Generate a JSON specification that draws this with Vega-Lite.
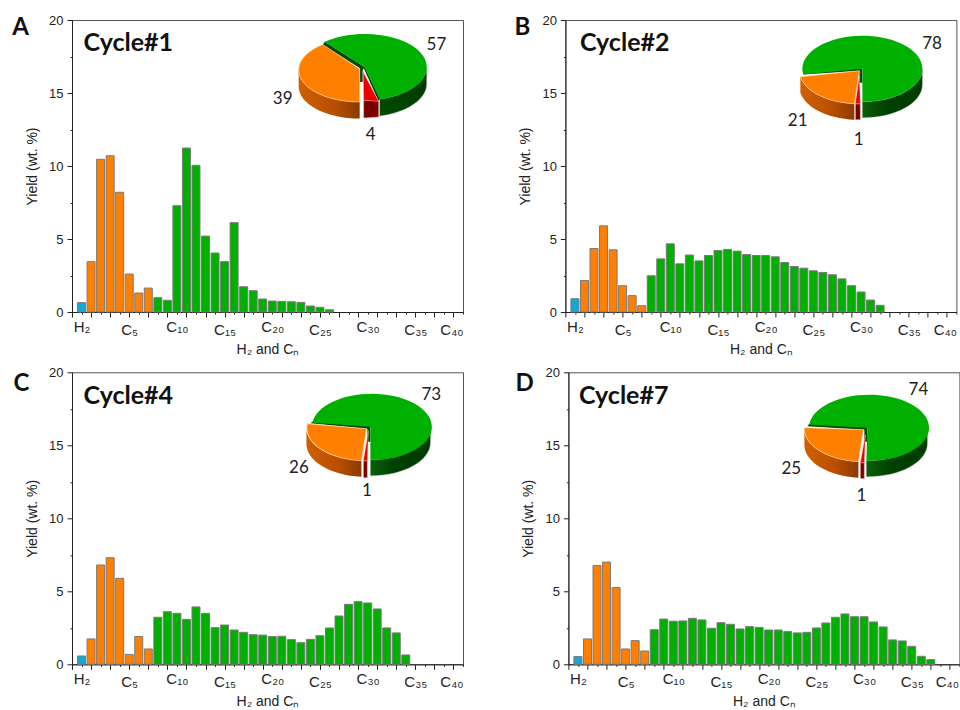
{"$schema":"https://vega.github.io/schema/vega-lite/v6.json","background":"white","padding":{"left":11,"top":13,"right":0,"bottom":0},"spacing":8.3,"config":{"view":{"stroke":"#555","strokeWidth":1},"text":{"font":"Lato"},"axis":{"grid":false,"domainColor":"#222","tickColor":"#222","labelFont":"Liberation Sans","titleFont":"Liberation Sans","labelFontSize":13,"titleFontSize":14,"labelColor":"#222","titleColor":"#222","titleFontWeight":"normal"}},
"vconcat":[
{"hconcat":[
{"width":391,"height":292,"resolve":{"axis":{"x":"independent","y":"independent"}},"layer":[
{"data":{"values":[{"pos":1,"yield":0.64,"group":"H2"},{"pos":2,"yield":3.45,"group":"C1-C7"},{"pos":3,"yield":10.46,"group":"C1-C7"},{"pos":4,"yield":10.7,"group":"C1-C7"},{"pos":5,"yield":8.2,"group":"C1-C7"},{"pos":6,"yield":2.6,"group":"C1-C7"},{"pos":7,"yield":1.3,"group":"C1-C7"},{"pos":8,"yield":1.64,"group":"C1-C7"},{"pos":9,"yield":0.98,"group":"C8+"},{"pos":10,"yield":0.8,"group":"C8+"},{"pos":11,"yield":7.28,"group":"C8+"},{"pos":12,"yield":11.23,"group":"C8+"},{"pos":13,"yield":10.05,"group":"C8+"},{"pos":14,"yield":5.2,"group":"C8+"},{"pos":15,"yield":4.04,"group":"C8+"},{"pos":16,"yield":3.45,"group":"C8+"},{"pos":17,"yield":6.12,"group":"C8+"},{"pos":18,"yield":1.73,"group":"C8+"},{"pos":19,"yield":1.46,"group":"C8+"},{"pos":20,"yield":0.89,"group":"C8+"},{"pos":21,"yield":0.75,"group":"C8+"},{"pos":22,"yield":0.73,"group":"C8+"},{"pos":23,"yield":0.7,"group":"C8+"},{"pos":24,"yield":0.66,"group":"C8+"},{"pos":25,"yield":0.41,"group":"C8+"},{"pos":26,"yield":0.32,"group":"C8+"},{"pos":27,"yield":0.15,"group":"C8+"}]},
"mark":{"type":"bar","size":8,"stroke":"#7a7a7a","strokeWidth":1},
"encoding":{"x":{"field":"pos","type":"quantitative","scale":{"domain":[0,41],"nice":false,"padding":0},"axis":{"title":"H₂ and Cₙ","values":[0,1,2,3,4,5,6,7,8,9,10,11,12,13,14,15,16,17,18,19,20,21,22,23,24,25,26,27,28,29,30,31,32,33,34,35,36,37,38,39,40,41],"labelExpr":"datum.value==1?'H₂':datum.value==6?'C₅':datum.value==11?'C₁₀':datum.value==16?'C₁₅':datum.value==21?'C₂₀':datum.value==26?'C₂₅':datum.value==31?'C₃₀':datum.value==36?'C₃₅':datum.value==40?'C₄₀':''","labelFontSize":15,"labelOverlap":false,"labelBound":false,"labelFlush":false,"labelPadding":5,"labelOffset":{"condition":{"test":"datum.value==40","value":-2},"value":0},"tickSize":{"condition":{"test":"datum.value%2==0","value":5},"value":2},"titlePadding":5}},"y":{"field":"yield","type":"quantitative","scale":{"domain":[0,20],"nice":false},"axis":{"title":"Yield (wt. %)","values":[0,2.5,5,7.5,10,12.5,15,17.5,20],"labelExpr":"datum.value%5==0?datum.value:''","labelOverlap":false,"labelPadding":4,"tickSize":{"condition":{"test":"datum.value%5==0","value":5},"value":2},"titlePadding":9}},"color":{"field":"group","type":"nominal","scale":{"domain":["H2","C1-C7","C8+"],"range":["#12a8d8","#ff7f00","#00b000"]},"legend":null}}},
{"data":{"values":[{"panel":"A","cycle":"Cycle#1"}]},"layer":[
{"mark":{"type":"text","fontSize":24,"fontWeight":"bold","color":"#111"},"encoding":{"text":{"field":"panel"},"x":{"datum":-5.38,"scale":{"domain":[0,41],"nice":false,"padding":0},"axis":null},"y":{"datum":19.42,"scale":{"domain":[0,20],"nice":false},"axis":null}}},
{"mark":{"type":"text","fontSize":25,"fontWeight":"bold","color":"#111"},"encoding":{"text":{"field":"cycle"},"x":{"datum":5.91,"scale":{"domain":[0,41],"nice":false,"padding":0},"axis":null},"y":{"datum":18.4,"scale":{"domain":[0,20],"nice":false},"axis":null}}}]},
{"data":{"values":[{"f":"C8+","share":57},{"f":"C1-C7","share":39},{"f":"H2","share":4}]},"layer":[
{"transform":[{"filter":"datum.f=='C8+'"}],"mark":{"type":"text","fontSize":17,"color":"#222"},"encoding":{"text":{"field":"share"},"x":{"datum":38.21,"scale":{"domain":[0,41],"nice":false,"padding":0},"axis":null},"y":{"datum":18.31,"scale":{"domain":[0,20],"nice":false},"axis":null}}},
{"transform":[{"filter":"datum.f=='C1-C7'"}],"mark":{"type":"text","fontSize":17,"color":"#222"},"encoding":{"text":{"field":"share"},"x":{"datum":22.09,"scale":{"domain":[0,41],"nice":false,"padding":0},"axis":null},"y":{"datum":14.59,"scale":{"domain":[0,20],"nice":false},"axis":null}}},
{"transform":[{"filter":"datum.f=='H2'"}],"mark":{"type":"text","fontSize":17,"color":"#222"},"encoding":{"text":{"field":"share"},"x":{"datum":31.32,"scale":{"domain":[0,41],"nice":false,"padding":0},"axis":null},"y":{"datum":12.12,"scale":{"domain":[0,20],"nice":false},"axis":null}}},
{"encoding":{"x":{"datum":30.69,"scale":{"domain":[0,41],"nice":false,"padding":0},"axis":null},"y":{"datum":16.78,"scale":{"domain":[0,20],"nice":false},"axis":null}},"layer":[
{"transform":[{"filter":"datum.f=='C8+'"}],"mark":{"type":"point","filled":true,"opacity":1,"size":40000,"shape":"M0.62,0 A0.62,0.33 0 0 1 0.15,0.32 L0.15,0.49 A0.62,0.33 0 0 0 0.62,0.165 Z","fill":{"gradient":"linear","x1":0,"x2":1,"y1":0,"y2":0,"stops":[{"offset":0,"color":"#004a00"},{"offset":1,"color":"#003c00"}]},"stroke":"#9db89d","strokeWidth":0.4}},
{"transform":[{"filter":"datum.f=='C1-C7'"}],"mark":{"type":"point","filled":true,"opacity":1,"size":40000,"shape":"M-0.66,0.03 L-0.66,0.19 A0.61,0.32 0 0 0 -0.05,0.515 L-0.05,0.35 A0.61,0.32 0 0 1 -0.66,0.03 Z","fill":{"gradient":"linear","x1":0,"x2":1,"y1":0,"y2":0,"stops":[{"offset":0,"color":"#d06000"},{"offset":0.6,"color":"#b84e00"},{"offset":1,"color":"#8a3a00"}]}}},
{"transform":[{"filter":"datum.f=='H2'"}],"mark":{"type":"point","filled":true,"opacity":1,"size":40000,"shape":"M-0.01,0.33 L-0.01,0.51 L0.14,0.5 L0.14,0.34 Z","fill":"#7a0000","stroke":"#e8b0b0","strokeWidth":0.5}},
{"transform":[{"filter":"datum.f=='C8+'"}],"mark":{"type":"point","filled":true,"opacity":1,"size":40000,"shape":"M-0.4,-0.252 L-0.42,-0.22 L-0.05,0.01 L-0.05,0.15 L-0.02,0.15 L-0.02,0.03 L0,0 Z M-0.01,0.01 L0.135,0.335 L0.155,0.32 L0,0 Z","fill":"#004a00"}},
{"transform":[{"filter":"datum.f=='C8+'"}],"mark":{"type":"point","filled":true,"opacity":1,"size":40000,"shape":"M0,0 L-0.4,-0.252 A0.62,0.33 0 1 1 0.15,0.32 Z","fill":"#00b000"}},
{"transform":[{"filter":"datum.f=='C1-C7'"}],"mark":{"type":"point","filled":true,"opacity":1,"size":40000,"shape":"M-0.05,0.02 L-0.05,0.35 A0.61,0.32 0 0 1 -0.418,-0.225 Z","fill":"#ff7f00","stroke":"#ffd9b0","strokeWidth":0.6}},
{"transform":[{"filter":"datum.f=='H2'"}],"mark":{"type":"point","filled":true,"opacity":1,"size":40000,"shape":"M-0.015,0.05 L-0.01,0.33 L0.14,0.345 Z","fill":"#ee0000","stroke":"#ffc0c0","strokeWidth":0.4}}]}]}]},
{"width":391,"height":292,"resolve":{"axis":{"x":"independent","y":"independent"}},"layer":[
{"data":{"values":[{"pos":1,"yield":0.91,"group":"H2"},{"pos":2,"yield":2.16,"group":"C1-C7"},{"pos":3,"yield":4.35,"group":"C1-C7"},{"pos":4,"yield":5.9,"group":"C1-C7"},{"pos":5,"yield":4.26,"group":"C1-C7"},{"pos":6,"yield":1.8,"group":"C1-C7"},{"pos":7,"yield":1.12,"group":"C1-C7"},{"pos":8,"yield":0.43,"group":"C1-C7"},{"pos":9,"yield":2.48,"group":"C8+"},{"pos":10,"yield":3.64,"group":"C8+"},{"pos":11,"yield":4.67,"group":"C8+"},{"pos":12,"yield":3.3,"group":"C8+"},{"pos":13,"yield":3.9,"group":"C8+"},{"pos":14,"yield":3.5,"group":"C8+"},{"pos":15,"yield":3.87,"group":"C8+"},{"pos":16,"yield":4.21,"group":"C8+"},{"pos":17,"yield":4.28,"group":"C8+"},{"pos":18,"yield":4.17,"group":"C8+"},{"pos":19,"yield":3.94,"group":"C8+"},{"pos":20,"yield":3.87,"group":"C8+"},{"pos":21,"yield":3.87,"group":"C8+"},{"pos":22,"yield":3.78,"group":"C8+"},{"pos":23,"yield":3.39,"group":"C8+"},{"pos":24,"yield":3.12,"group":"C8+"},{"pos":25,"yield":3.0,"group":"C8+"},{"pos":26,"yield":2.82,"group":"C8+"},{"pos":27,"yield":2.71,"group":"C8+"},{"pos":28,"yield":2.55,"group":"C8+"},{"pos":29,"yield":2.27,"group":"C8+"},{"pos":30,"yield":1.8,"group":"C8+"},{"pos":31,"yield":1.37,"group":"C8+"},{"pos":32,"yield":0.82,"group":"C8+"},{"pos":33,"yield":0.46,"group":"C8+"}]},
"mark":{"type":"bar","size":8,"stroke":"#7a7a7a","strokeWidth":1},
"encoding":{"x":{"field":"pos","type":"quantitative","scale":{"domain":[0,41],"nice":false,"padding":0},"axis":{"title":"H₂ and Cₙ","values":[0,1,2,3,4,5,6,7,8,9,10,11,12,13,14,15,16,17,18,19,20,21,22,23,24,25,26,27,28,29,30,31,32,33,34,35,36,37,38,39,40,41],"labelExpr":"datum.value==1?'H₂':datum.value==6?'C₅':datum.value==11?'C₁₀':datum.value==16?'C₁₅':datum.value==21?'C₂₀':datum.value==26?'C₂₅':datum.value==31?'C₃₀':datum.value==36?'C₃₅':datum.value==40?'C₄₀':''","labelFontSize":15,"labelOverlap":false,"labelBound":false,"labelFlush":false,"labelPadding":5,"labelOffset":{"condition":{"test":"datum.value==40","value":-2},"value":0},"tickSize":{"condition":{"test":"datum.value%2==0","value":5},"value":2},"titlePadding":5}},"y":{"field":"yield","type":"quantitative","scale":{"domain":[0,20],"nice":false},"axis":{"title":"Yield (wt. %)","values":[0,2.5,5,7.5,10,12.5,15,17.5,20],"labelExpr":"datum.value%5==0?datum.value:''","labelOverlap":false,"labelPadding":4,"tickSize":{"condition":{"test":"datum.value%5==0","value":5},"value":2},"titlePadding":9}},"color":{"field":"group","type":"nominal","scale":{"domain":["H2","C1-C7","C8+"],"range":["#12a8d8","#ff7f00","#00b000"]},"legend":null}}},
{"data":{"values":[{"panel":"B","cycle":"Cycle#2"}]},"layer":[
{"mark":{"type":"text","fontSize":24,"fontWeight":"bold","color":"#111"},"encoding":{"text":{"field":"panel"},"x":{"datum":-4.51,"scale":{"domain":[0,41],"nice":false,"padding":0},"axis":null},"y":{"datum":19.47,"scale":{"domain":[0,20],"nice":false},"axis":null}}},
{"mark":{"type":"text","fontSize":25,"fontWeight":"bold","color":"#111"},"encoding":{"text":{"field":"cycle"},"x":{"datum":6.22,"scale":{"domain":[0,41],"nice":false,"padding":0},"axis":null},"y":{"datum":18.41,"scale":{"domain":[0,20],"nice":false},"axis":null}}}]},
{"data":{"values":[{"f":"C8+","share":78},{"f":"C1-C7","share":21},{"f":"H2","share":1}]},"layer":[
{"transform":[{"filter":"datum.f=='C8+'"}],"mark":{"type":"text","fontSize":17,"color":"#222"},"encoding":{"text":{"field":"share"},"x":{"datum":38.44,"scale":{"domain":[0,41],"nice":false,"padding":0},"axis":null},"y":{"datum":18.34,"scale":{"domain":[0,20],"nice":false},"axis":null}}},
{"transform":[{"filter":"datum.f=='C1-C7'"}],"mark":{"type":"text","fontSize":17,"color":"#222"},"encoding":{"text":{"field":"share"},"x":{"datum":24.36,"scale":{"domain":[0,41],"nice":false,"padding":0},"axis":null},"y":{"datum":13.05,"scale":{"domain":[0,20],"nice":false},"axis":null}}},
{"transform":[{"filter":"datum.f=='H2'"}],"mark":{"type":"text","fontSize":17,"color":"#222"},"encoding":{"text":{"field":"share"},"x":{"datum":30.75,"scale":{"domain":[0,41],"nice":false,"padding":0},"axis":null},"y":{"datum":11.75,"scale":{"domain":[0,20],"nice":false},"axis":null}}},
{"encoding":{"x":{"datum":31.14,"scale":{"domain":[0,41],"nice":false,"padding":0},"axis":null},"y":{"datum":16.66,"scale":{"domain":[0,20],"nice":false},"axis":null}},"layer":[
{"transform":[{"filter":"datum.f=='C8+'"}],"mark":{"type":"point","filled":true,"opacity":1,"size":40000,"shape":"M0.6,0 A0.6,0.33 0 0 1 0,0.33 L0,0.49 A0.6,0.33 0 0 0 0.6,0.16 Z","fill":{"gradient":"linear","x1":0,"x2":1,"y1":0,"y2":0,"stops":[{"offset":0,"color":"#0a5f0a"},{"offset":0.4,"color":"#004000"},{"offset":1,"color":"#003c00"}]},"stroke":"#9db89d","strokeWidth":0.4}},
{"transform":[{"filter":"datum.f=='C1-C7'"}],"mark":{"type":"point","filled":true,"opacity":1,"size":40000,"shape":"M-0.62,0.08 L-0.62,0.24 A0.6,0.33 0 0 0 -0.08,0.51 L-0.08,0.35 A0.6,0.33 0 0 1 -0.62,0.08 Z","fill":{"gradient":"linear","x1":0,"x2":1,"y1":0,"y2":0,"stops":[{"offset":0,"color":"#d06000"},{"offset":0.6,"color":"#b84e00"},{"offset":1,"color":"#8a3a00"}]}}},
{"transform":[{"filter":"datum.f=='H2'"}],"mark":{"type":"point","filled":true,"opacity":1,"size":40000,"shape":"M-0.07,0.35 L-0.07,0.51 L-0.02,0.51 L-0.02,0.35 Z","fill":"#7a0000","stroke":"#f0c8c8","strokeWidth":0.5}},
{"transform":[{"filter":"datum.f=='C8+'"}],"mark":{"type":"point","filled":true,"opacity":1,"size":40000,"shape":"M-0.59,0.058 L-0.59,0.04 L0,-0.005 L0,0.14 L-0.03,0.14 L-0.03,0.02 Z","fill":"#004a00"}},
{"transform":[{"filter":"datum.f=='C8+'"}],"mark":{"type":"point","filled":true,"opacity":1,"size":40000,"shape":"M0,0 L-0.59,0.058 A0.6,0.33 0 1 1 0,0.33 Z","fill":"#00b000"}},
{"transform":[{"filter":"datum.f=='C1-C7'"}],"mark":{"type":"point","filled":true,"opacity":1,"size":40000,"shape":"M-0.03,0.02 L-0.08,0.35 A0.6,0.33 0 0 1 -0.62,0.08 Z","fill":"#ff7f00","stroke":"#ffd9b0","strokeWidth":0.6}},
{"transform":[{"filter":"datum.f=='H2'"}],"mark":{"type":"point","filled":true,"opacity":1,"size":40000,"shape":"M-0.03,0.07 L-0.07,0.35 L-0.02,0.35 Z","fill":"#ee0000","stroke":"#ffd0d0","strokeWidth":0.4}}]}]}]}
],"spacing":102.4,"bounds":"flush"},
{"hconcat":[
{"width":391,"height":292,"resolve":{"axis":{"x":"independent","y":"independent"}},"layer":[
{"data":{"values":[{"pos":1,"yield":0.57,"group":"H2"},{"pos":2,"yield":1.74,"group":"C1-C7"},{"pos":3,"yield":6.8,"group":"C1-C7"},{"pos":4,"yield":7.3,"group":"C1-C7"},{"pos":5,"yield":5.89,"group":"C1-C7"},{"pos":6,"yield":0.68,"group":"C1-C7"},{"pos":7,"yield":1.9,"group":"C1-C7"},{"pos":8,"yield":1.05,"group":"C1-C7"},{"pos":9,"yield":3.22,"group":"C8+"},{"pos":10,"yield":3.6,"group":"C8+"},{"pos":11,"yield":3.49,"group":"C8+"},{"pos":12,"yield":3.08,"group":"C8+"},{"pos":13,"yield":3.93,"group":"C8+"},{"pos":14,"yield":3.49,"group":"C8+"},{"pos":15,"yield":2.51,"group":"C8+"},{"pos":16,"yield":2.69,"group":"C8+"},{"pos":17,"yield":2.35,"group":"C8+"},{"pos":18,"yield":2.19,"group":"C8+"},{"pos":19,"yield":2.03,"group":"C8+"},{"pos":20,"yield":2.0,"group":"C8+"},{"pos":21,"yield":1.9,"group":"C8+"},{"pos":22,"yield":1.92,"group":"C8+"},{"pos":23,"yield":1.69,"group":"C8+"},{"pos":24,"yield":1.48,"group":"C8+"},{"pos":25,"yield":1.71,"group":"C8+"},{"pos":26,"yield":1.96,"group":"C8+"},{"pos":27,"yield":2.49,"group":"C8+"},{"pos":28,"yield":3.31,"group":"C8+"},{"pos":29,"yield":4.11,"group":"C8+"},{"pos":30,"yield":4.29,"group":"C8+"},{"pos":31,"yield":4.2,"group":"C8+"},{"pos":32,"yield":3.79,"group":"C8+"},{"pos":33,"yield":2.49,"group":"C8+"},{"pos":34,"yield":2.15,"group":"C8+"},{"pos":35,"yield":0.64,"group":"C8+"}]},
"mark":{"type":"bar","size":8,"stroke":"#7a7a7a","strokeWidth":1},
"encoding":{"x":{"field":"pos","type":"quantitative","scale":{"domain":[0,41],"nice":false,"padding":0},"axis":{"title":"H₂ and Cₙ","values":[0,1,2,3,4,5,6,7,8,9,10,11,12,13,14,15,16,17,18,19,20,21,22,23,24,25,26,27,28,29,30,31,32,33,34,35,36,37,38,39,40,41],"labelExpr":"datum.value==1?'H₂':datum.value==6?'C₅':datum.value==11?'C₁₀':datum.value==16?'C₁₅':datum.value==21?'C₂₀':datum.value==26?'C₂₅':datum.value==31?'C₃₀':datum.value==36?'C₃₅':datum.value==40?'C₄₀':''","labelFontSize":15,"labelOverlap":false,"labelBound":false,"labelFlush":false,"labelPadding":5,"labelOffset":{"condition":{"test":"datum.value==40","value":-2},"value":0},"tickSize":{"condition":{"test":"datum.value%2==0","value":5},"value":2},"titlePadding":5}},"y":{"field":"yield","type":"quantitative","scale":{"domain":[0,20],"nice":false},"axis":{"title":"Yield (wt. %)","values":[0,2.5,5,7.5,10,12.5,15,17.5,20],"labelExpr":"datum.value%5==0?datum.value:''","labelOverlap":false,"labelPadding":4,"tickSize":{"condition":{"test":"datum.value%5==0","value":5},"value":2},"titlePadding":9}},"color":{"field":"group","type":"nominal","scale":{"domain":["H2","C1-C7","C8+"],"range":["#12a8d8","#ff7f00","#00b000"]},"legend":null}}},
{"data":{"values":[{"panel":"C","cycle":"Cycle#4"}]},"layer":[
{"mark":{"type":"text","fontSize":24,"fontWeight":"bold","color":"#111"},"encoding":{"text":{"field":"panel"},"x":{"datum":-5.31,"scale":{"domain":[0,41],"nice":false,"padding":0},"axis":null},"y":{"datum":19.22,"scale":{"domain":[0,20],"nice":false},"axis":null}}},
{"mark":{"type":"text","fontSize":25,"fontWeight":"bold","color":"#111"},"encoding":{"text":{"field":"cycle"},"x":{"datum":5.91,"scale":{"domain":[0,41],"nice":false,"padding":0},"axis":null},"y":{"datum":18.4,"scale":{"domain":[0,20],"nice":false},"axis":null}}}]},
{"data":{"values":[{"f":"C8+","share":73},{"f":"C1-C7","share":26},{"f":"H2","share":1}]},"layer":[
{"transform":[{"filter":"datum.f=='C8+'"}],"mark":{"type":"text","fontSize":17,"color":"#222"},"encoding":{"text":{"field":"share"},"x":{"datum":37.68,"scale":{"domain":[0,41],"nice":false,"padding":0},"axis":null},"y":{"datum":18.45,"scale":{"domain":[0,20],"nice":false},"axis":null}}},
{"transform":[{"filter":"datum.f=='C1-C7'"}],"mark":{"type":"text","fontSize":17,"color":"#222"},"encoding":{"text":{"field":"share"},"x":{"datum":23.8,"scale":{"domain":[0,41],"nice":false,"padding":0},"axis":null},"y":{"datum":13.42,"scale":{"domain":[0,20],"nice":false},"axis":null}}},
{"transform":[{"filter":"datum.f=='H2'"}],"mark":{"type":"text","fontSize":17,"color":"#222"},"encoding":{"text":{"field":"share"},"x":{"datum":30.93,"scale":{"domain":[0,41],"nice":false,"padding":0},"axis":null},"y":{"datum":11.87,"scale":{"domain":[0,20],"nice":false},"axis":null}}},
{"encoding":{"x":{"datum":31.29,"scale":{"domain":[0,41],"nice":false,"padding":0},"axis":null},"y":{"datum":16.27,"scale":{"domain":[0,20],"nice":false},"axis":null}},"layer":[
{"transform":[{"filter":"datum.f=='C8+'"}],"mark":{"type":"point","filled":true,"opacity":1,"size":40000,"shape":"M0.6,0 A0.6,0.33 0 0 1 0,0.33 L0,0.49 A0.6,0.33 0 0 0 0.6,0.16 Z","fill":{"gradient":"linear","x1":0,"x2":1,"y1":0,"y2":0,"stops":[{"offset":0,"color":"#0a5f0a"},{"offset":0.4,"color":"#004000"},{"offset":1,"color":"#003c00"}]},"stroke":"#9db89d","strokeWidth":0.4}},
{"transform":[{"filter":"datum.f=='C1-C7'"}],"mark":{"type":"point","filled":true,"opacity":1,"size":40000,"shape":"M-0.64,0.03 L-0.64,0.18 A0.6,0.33 0 0 0 -0.09,0.5 L-0.09,0.34 A0.6,0.33 0 0 1 -0.64,0.03 Z","fill":{"gradient":"linear","x1":0,"x2":1,"y1":0,"y2":0,"stops":[{"offset":0,"color":"#d06000"},{"offset":0.6,"color":"#b84e00"},{"offset":1,"color":"#8a3a00"}]}}},
{"transform":[{"filter":"datum.f=='H2'"}],"mark":{"type":"point","filled":true,"opacity":1,"size":40000,"shape":"M-0.07,0.34 L-0.07,0.51 L-0.03,0.51 L-0.03,0.34 Z","fill":"#7a0000","stroke":"#f0c8c8","strokeWidth":0.5}},
{"transform":[{"filter":"datum.f=='C8+'"}],"mark":{"type":"point","filled":true,"opacity":1,"size":40000,"shape":"M-0.6,-0.035 L-0.58,-0.05 L0,-0.01 L0,0.15 L-0.03,0.15 L-0.03,0.02 Z","fill":"#004a00"}},
{"transform":[{"filter":"datum.f=='C8+'"}],"mark":{"type":"point","filled":true,"opacity":1,"size":40000,"shape":"M0,0 L-0.58,-0.04 A0.6,0.33 0 1 1 0,0.33 Z","fill":"#00b000"}},
{"transform":[{"filter":"datum.f=='C1-C7'"}],"mark":{"type":"point","filled":true,"opacity":1,"size":40000,"shape":"M-0.04,0.02 L-0.09,0.34 A0.6,0.33 0 0 1 -0.63,-0.03 Z","fill":"#ff7f00","stroke":"#ffd9b0","strokeWidth":0.6}},
{"transform":[{"filter":"datum.f=='H2'"}],"mark":{"type":"point","filled":true,"opacity":1,"size":40000,"shape":"M-0.02,0.04 L-0.07,0.34 L-0.03,0.34 Z","fill":"#ee0000","stroke":"#ffd0d0","strokeWidth":0.4}}]}]}]},
{"width":391,"height":292,"resolve":{"axis":{"x":"independent","y":"independent"}},"layer":[
{"data":{"values":[{"pos":1,"yield":0.53,"group":"H2"},{"pos":2,"yield":1.74,"group":"C1-C7"},{"pos":3,"yield":6.76,"group":"C1-C7"},{"pos":4,"yield":7.0,"group":"C1-C7"},{"pos":5,"yield":5.25,"group":"C1-C7"},{"pos":6,"yield":1.05,"group":"C1-C7"},{"pos":7,"yield":1.62,"group":"C1-C7"},{"pos":8,"yield":0.91,"group":"C1-C7"},{"pos":9,"yield":2.37,"group":"C8+"},{"pos":10,"yield":3.1,"group":"C8+"},{"pos":11,"yield":2.95,"group":"C8+"},{"pos":12,"yield":2.97,"group":"C8+"},{"pos":13,"yield":3.15,"group":"C8+"},{"pos":14,"yield":3.04,"group":"C8+"},{"pos":15,"yield":2.47,"group":"C8+"},{"pos":16,"yield":2.85,"group":"C8+"},{"pos":17,"yield":2.74,"group":"C8+"},{"pos":18,"yield":2.42,"group":"C8+"},{"pos":19,"yield":2.58,"group":"C8+"},{"pos":20,"yield":2.53,"group":"C8+"},{"pos":21,"yield":2.35,"group":"C8+"},{"pos":22,"yield":2.35,"group":"C8+"},{"pos":23,"yield":2.24,"group":"C8+"},{"pos":24,"yield":2.15,"group":"C8+"},{"pos":25,"yield":2.19,"group":"C8+"},{"pos":26,"yield":2.49,"group":"C8+"},{"pos":27,"yield":2.83,"group":"C8+"},{"pos":28,"yield":3.22,"group":"C8+"},{"pos":29,"yield":3.45,"group":"C8+"},{"pos":30,"yield":3.26,"group":"C8+"},{"pos":31,"yield":3.26,"group":"C8+"},{"pos":32,"yield":2.9,"group":"C8+"},{"pos":33,"yield":2.56,"group":"C8+"},{"pos":34,"yield":1.67,"group":"C8+"},{"pos":35,"yield":1.6,"group":"C8+"},{"pos":36,"yield":1.23,"group":"C8+"},{"pos":37,"yield":0.55,"group":"C8+"},{"pos":38,"yield":0.32,"group":"C8+"}]},
"mark":{"type":"bar","size":8,"stroke":"#7a7a7a","strokeWidth":1},
"encoding":{"x":{"field":"pos","type":"quantitative","scale":{"domain":[0,41],"nice":false,"padding":0},"axis":{"title":"H₂ and Cₙ","values":[0,1,2,3,4,5,6,7,8,9,10,11,12,13,14,15,16,17,18,19,20,21,22,23,24,25,26,27,28,29,30,31,32,33,34,35,36,37,38,39,40,41],"labelExpr":"datum.value==1?'H₂':datum.value==6?'C₅':datum.value==11?'C₁₀':datum.value==16?'C₁₅':datum.value==21?'C₂₀':datum.value==26?'C₂₅':datum.value==31?'C₃₀':datum.value==36?'C₃₅':datum.value==40?'C₄₀':''","labelFontSize":15,"labelOverlap":false,"labelBound":false,"labelFlush":false,"labelPadding":5,"labelOffset":{"condition":{"test":"datum.value==40","value":-3},"value":0},"tickSize":{"condition":{"test":"datum.value%2==0","value":5},"value":2},"titlePadding":5}},"y":{"field":"yield","type":"quantitative","scale":{"domain":[0,20],"nice":false},"axis":{"title":"Yield (wt. %)","values":[0,2.5,5,7.5,10,12.5,15,17.5,20],"labelExpr":"datum.value%5==0?datum.value:''","labelOverlap":false,"labelPadding":4,"tickSize":{"condition":{"test":"datum.value%5==0","value":5},"value":2},"titlePadding":9}},"color":{"field":"group","type":"nominal","scale":{"domain":["H2","C1-C7","C8+"],"range":["#12a8d8","#ff7f00","#00b000"]},"legend":null}}},
{"data":{"values":[{"panel":"D","cycle":"Cycle#7"}]},"layer":[
{"mark":{"type":"text","fontSize":24,"fontWeight":"bold","color":"#111"},"encoding":{"text":{"field":"panel"},"x":{"datum":-4.58,"scale":{"domain":[0,41],"nice":false,"padding":0},"axis":null},"y":{"datum":19.2,"scale":{"domain":[0,20],"nice":false},"axis":null}}},
{"mark":{"type":"text","fontSize":25,"fontWeight":"bold","color":"#111"},"encoding":{"text":{"field":"cycle"},"x":{"datum":5.8,"scale":{"domain":[0,41],"nice":false,"padding":0},"axis":null},"y":{"datum":18.36,"scale":{"domain":[0,20],"nice":false},"axis":null}}}]},
{"data":{"values":[{"f":"C8+","share":74},{"f":"C1-C7","share":25},{"f":"H2","share":1}]},"layer":[
{"transform":[{"filter":"datum.f=='C8+'"}],"mark":{"type":"text","fontSize":17,"color":"#222"},"encoding":{"text":{"field":"share"},"x":{"datum":36.7,"scale":{"domain":[0,41],"nice":false,"padding":0},"axis":null},"y":{"datum":18.77,"scale":{"domain":[0,20],"nice":false},"axis":null}}},
{"transform":[{"filter":"datum.f=='C1-C7'"}],"mark":{"type":"text","fontSize":17,"color":"#222"},"encoding":{"text":{"field":"share"},"x":{"datum":23.38,"scale":{"domain":[0,41],"nice":false,"padding":0},"axis":null},"y":{"datum":13.36,"scale":{"domain":[0,20],"nice":false},"axis":null}}},
{"transform":[{"filter":"datum.f=='H2'"}],"mark":{"type":"text","fontSize":17,"color":"#222"},"encoding":{"text":{"field":"share"},"x":{"datum":30.72,"scale":{"domain":[0,41],"nice":false,"padding":0},"axis":null},"y":{"datum":11.51,"scale":{"domain":[0,20],"nice":false},"axis":null}}},
{"encoding":{"x":{"datum":31.35,"scale":{"domain":[0,41],"nice":false,"padding":0},"axis":null},"y":{"datum":16.21,"scale":{"domain":[0,20],"nice":false},"axis":null}},"layer":[
{"transform":[{"filter":"datum.f=='C8+'"}],"mark":{"type":"point","filled":true,"opacity":1,"size":40000,"shape":"M0.6,0 A0.6,0.33 0 0 1 -0.01,0.33 L-0.01,0.49 A0.6,0.33 0 0 0 0.6,0.16 Z","fill":{"gradient":"linear","x1":0,"x2":1,"y1":0,"y2":0,"stops":[{"offset":0,"color":"#0a5f0a"},{"offset":0.4,"color":"#004000"},{"offset":1,"color":"#003c00"}]},"stroke":"#9db89d","strokeWidth":0.4}},
{"transform":[{"filter":"datum.f=='C1-C7'"}],"mark":{"type":"point","filled":true,"opacity":1,"size":40000,"shape":"M-0.63,0.03 L-0.63,0.17 A0.6,0.33 0 0 0 -0.09,0.5 L-0.09,0.34 A0.6,0.33 0 0 1 -0.63,0.03 Z","fill":{"gradient":"linear","x1":0,"x2":1,"y1":0,"y2":0,"stops":[{"offset":0,"color":"#d06000"},{"offset":0.6,"color":"#b84e00"},{"offset":1,"color":"#8a3a00"}]}}},
{"transform":[{"filter":"datum.f=='H2'"}],"mark":{"type":"point","filled":true,"opacity":1,"size":40000,"shape":"M-0.07,0.35 L-0.07,0.51 L-0.03,0.51 L-0.03,0.35 Z","fill":"#7a0000","stroke":"#f0c8c8","strokeWidth":0.5}},
{"transform":[{"filter":"datum.f=='C8+'"}],"mark":{"type":"point","filled":true,"opacity":1,"size":40000,"shape":"M-0.6,-0.015 L-0.58,-0.04 L0,-0.005 L0,0.14 L-0.03,0.14 L-0.03,0.02 Z","fill":"#004a00"}},
{"transform":[{"filter":"datum.f=='C8+'"}],"mark":{"type":"point","filled":true,"opacity":1,"size":40000,"shape":"M0,0 L-0.58,-0.03 A0.6,0.33 0 1 1 -0.01,0.33 Z","fill":"#00b000"}},
{"transform":[{"filter":"datum.f=='C1-C7'"}],"mark":{"type":"point","filled":true,"opacity":1,"size":40000,"shape":"M-0.04,0.02 L-0.09,0.34 A0.6,0.33 0 0 1 -0.63,0 Z","fill":"#ff7f00","stroke":"#ffd9b0","strokeWidth":0.6}},
{"transform":[{"filter":"datum.f=='H2'"}],"mark":{"type":"point","filled":true,"opacity":1,"size":40000,"shape":"M-0.02,0.07 L-0.07,0.35 L-0.03,0.35 Z","fill":"#ee0000","stroke":"#ffd0d0","strokeWidth":0.4}}]}]}]}
],"spacing":105.4,"bounds":"flush"}
]}
